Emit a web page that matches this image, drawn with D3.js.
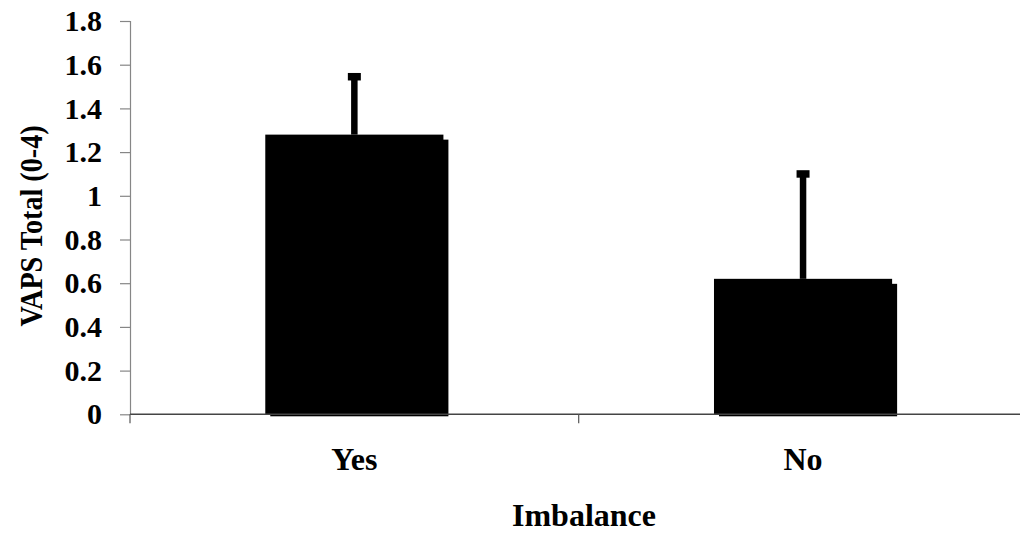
<!DOCTYPE html>
<html>
<head>
<meta charset="utf-8">
<script src="https://cdn.jsdelivr.net/npm/d3@7"></script>
<style>
  html, body { margin: 0; padding: 0; background: #fff; }
  svg { display: block; }
</style>
</head>
<body>
<svg id="chart" width="1020" height="533"></svg>
<script>
// ---- data ----
const categories = ["Yes", "No"];
const means = [1.28, 0.62];
const errors = [0.265, 0.48];
const yTicks = [0, 0.2, 0.4, 0.6, 0.8, 1, 1.2, 1.4, 1.6, 1.8];
const yTitle = "VAPS Total (0-4)";
const xTitle = "Imbalance";

const FONT = "Liberation Serif";
const svg = d3.select("#chart");
const mLeft = 130, mRight = 1027.4, mTop = 21, mBottom = 414.3;

const x = d3.scaleBand().domain(categories).range([mLeft, mRight]).padding(0);
const y = d3.scaleLinear().domain([0, 1.8]).range([mBottom, mTop]);

const barFrac = 0.397;
const bw = x.bandwidth() * barFrac;
const cx = c => x(c) + x.bandwidth() / 2;

const data = categories.map((c, i) => ({ c, m: means[i], e: errors[i] }));

// shadows
svg.append("g").selectAll("rect").data(data).join("rect")
  .attr("x", d => cx(d.c) - bw / 2 + 5)
  .attr("y", d => y(d.m) + 5)
  .attr("width", bw)
  .attr("height", d => mBottom + 2 - (y(d.m) + 5))
  .attr("fill", "#000");

// bars
svg.append("g").selectAll("rect").data(data).join("rect")
  .attr("x", d => cx(d.c) - bw / 2)
  .attr("y", d => y(d.m))
  .attr("width", bw)
  .attr("height", d => mBottom - y(d.m))
  .attr("fill", "#000");

// y axis
const yAxis = svg.append("g")
  .attr("transform", `translate(${mLeft},0)`)
  .call(d3.axisLeft(y).tickValues(yTicks).tickFormat(d => String(d)).tickSize(10).tickPadding(18));
yAxis.attr("font-family", FONT).attr("font-size", 30).attr("font-weight", "bold");
yAxis.select(".domain").attr("stroke", "#868686").attr("stroke-width", 1.2)
  .attr("d", `M0.5,${mTop}V${mBottom}`);
yAxis.selectAll(".tick line").attr("stroke", "#868686").attr("stroke-width", 1.2);
yAxis.selectAll(".tick text").attr("fill", "#000")
  .attr("font-family", FONT).attr("font-size", 30).attr("font-weight", "bold");

// x axis
const xAxis = svg.append("g")
  .attr("transform", `translate(0,${mBottom})`)
  .call(d3.axisBottom(x).tickValues([]).tickSize(0));
xAxis.select(".domain").attr("stroke", "#444").attr("stroke-width", 1.6)
  .attr("d", `M${mLeft},0H1020`);
xAxis.selectAll("line.sep").data([mLeft, mRight - x.bandwidth(), mRight]).join("line")
  .attr("class", "sep")
  .attr("x1", d => d).attr("x2", d => d)
  .attr("y1", 0).attr("y2", 9)
  .attr("stroke", "#555").attr("stroke-width", 1.2);

// category labels
svg.append("g").selectAll("text").data(categories).join("text")
  .attr("transform", c => `translate(${cx(c)},470)`)
  .attr("text-anchor", "middle")
  .attr("font-family", FONT).attr("font-weight", "bold").attr("font-size", 32)
  .attr("fill", "#000")
  .text(c => c);

// error bars
const eg = svg.append("g");
eg.selectAll("line.stem").data(data).join("line")
  .attr("class", "stem")
  .attr("x1", d => cx(d.c)).attr("x2", d => cx(d.c))
  .attr("y1", d => y(d.m)).attr("y2", d => y(d.m + d.e))
  .attr("stroke", "#000").attr("stroke-width", 6.5);
eg.selectAll("line.cap").data(data).join("line")
  .attr("class", "cap")
  .attr("x1", d => cx(d.c) - 6.5).attr("x2", d => cx(d.c) + 6.5)
  .attr("y1", d => y(d.m + d.e)).attr("y2", d => y(d.m + d.e))
  .attr("stroke", "#000").attr("stroke-width", 7.5);

// titles
svg.append("text")
  .attr("transform", `translate(584,526)`)
  .attr("text-anchor", "middle")
  .attr("font-family", FONT).attr("font-weight", "bold").attr("font-size", 32)
  .attr("fill", "#000")
  .text(xTitle);

svg.append("text")
  .attr("transform", `translate(42,226) rotate(-90) scale(0.88,1)`)
  .attr("text-anchor", "middle")
  .attr("font-family", FONT).attr("font-weight", "bold").attr("font-size", 32)
  .attr("fill", "#000")
  .text(yTitle);
</script>
</body>
</html>
